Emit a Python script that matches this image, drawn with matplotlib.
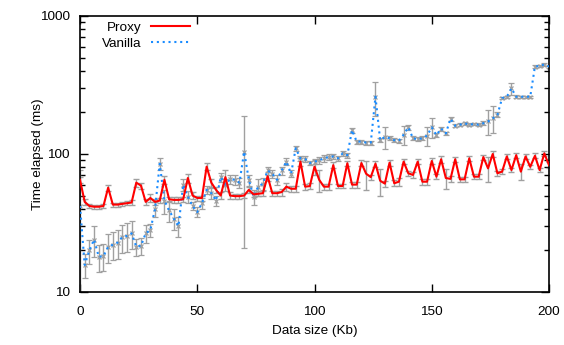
import matplotlib
matplotlib.use("Agg")
import matplotlib.pyplot as plt
from matplotlib.lines import Line2D
from matplotlib.ticker import FixedLocator, FixedFormatter, LogLocator, NullFormatter

plt.rcParams['font.family'] = ['Liberation Sans', 'DejaVu Sans']

# data size (Kb)
data_size = list(range(0, 201, 2))

proxy = [
    65, 45, 42, 41.5, 41.5, 42, 57, 43, 43, 43.5,
    44, 44.5, 62, 59, 45, 48, 45, 46, 65, 47,
    46.5, 46.5, 47, 67, 50, 48, 48, 81, 62, 55,
    50, 68, 50, 49.5, 49.5, 50, 55, 51, 51.5, 52,
    69, 52, 52, 53, 58, 56, 56, 88, 58, 58.5,
    81, 65, 58, 58, 83, 58.6, 58.6, 85.6, 60, 60,
    86, 72, 68, 85, 64, 61, 86.5, 61.4, 63, 88,
    72.5, 70.5, 88, 63, 63, 89, 68.5, 91.6, 67, 66,
    91.6, 65.5, 65.5, 93, 68.5, 68.5, 95, 78.7, 100, 72.5,
    74.5, 96, 76.5, 98, 74.5, 96, 80.8, 97, 76.5, 101,
    83,
]
proxy_err = [
    3, 2, 1.5, 1.5, 1.5, 1.5, 3, 1.5, 1.5, 1.5,
    1.5, 2, 4, 3, 2, 3, 2, 2, 4, 2,
    2, 2, 2, 5, 3, 2, 2, 5, 4, 3,
    3, 8, 3, 2, 2, 2, 3, 2, 2, 2,
    5, 2, 2, 3, 4, 3, 3, 6, 3, 3,
    10, 12, 3, 3, 4, 2, 2, 4, 3, 3,
    4, 17, 3, 4, 14, 3, 4, 3, 4, 4,
    3, 3, 4, 3, 3, 4, 3, 5, 11, 3,
    4, 3, 3, 4, 3, 3, 4, 16, 5, 3,
    3, 4, 3, 4, 10, 4, 3, 4, 3, 4,
    4,
]

vanilla = [
    42, 15.7, 20, 24, 18, 18.2, 21.3, 22, 22.8, 25,
    25.5, 26.6, 21.3, 21.6, 26.6, 28.1, 40, 85, 46, 39,
    34, 30, 60, 49, 42, 38, 44, 55, 52, 46,
    68, 60, 66, 65, 62, 104, 65, 49, 58, 61,
    76, 72, 65, 76, 88, 72, 110, 93, 92, 86,
    88, 90, 93, 95, 96, 93, 101, 98, 149, 123,
    123, 121, 121, 260, 126, 133, 130, 126, 125, 138,
    156, 130, 128, 130, 136, 156, 137, 153, 141, 180,
    160, 163, 167, 163, 165, 163, 167, 172, 181, 192,
    254, 260, 299, 260, 260, 260, 260, 430, 435, 445,
    430,
]
vanilla_err = [
    34, 3, 4, 6, 4, 4, 5, 5, 5.5, 5.7,
    6, 6, 3, 3, 4, 3, 5, 9, 9, 7,
    6, 5, 6, 5, 3, 3, 4, 4, 5, 4,
    5, 6, 5, 5, 5, 83, 6, 6, 8, 6,
    5, 5, 5, 5, 5, 4, 5, 4, 4, 3,
    4, 5, 5, 5, 4, 4, 4, 4, 6, 4,
    4, 4, 4, 70, 4, 25, 4, 4, 4, 22,
    6, 4, 4, 4, 22, 25, 4, 5, 4, 6,
    4, 4, 4, 4, 4, 4, 5, 35, 40, 8,
    5, 5, 30, 6, 5, 5, 5, 8, 8, 10,
    10,
]

x_ticks = [0, 50, 100, 150, 200]
y_ticks = [10, 100, 1000]
y_tick_labels = ['10', '100', '1000']

red = '#ff0000'
blue = '#1a8cff'
grey = '#a0a0a0'

fig = plt.figure(figsize=(5.64, 3.45), dpi=100)
ax = fig.add_axes([80 / 564, 1 - 292 / 345, 469 / 564, 276 / 345])
ax.set_yscale('log')

# error bars
ax.errorbar(data_size, proxy, yerr=proxy_err, fmt='none', ecolor=grey,
            elinewidth=1, capsize=2.5, capthick=1, zorder=2)
ax.errorbar(data_size, vanilla, yerr=vanilla_err, fmt='x', color=grey, ms=3.5,
            mew=0.9, ecolor=grey, elinewidth=1, capsize=2.5, capthick=1, zorder=2)

# lines
ax.plot(data_size, proxy, color=red, lw=1.5, zorder=4)
ax.plot(data_size, vanilla, color=blue, lw=1.5, ls=(0, (1, 1.8)), zorder=3)

ax.set_xlim(0, 200)
ax.set_ylim(10, 1000)
ax.xaxis.set_major_locator(FixedLocator(x_ticks))
ax.yaxis.set_major_locator(FixedLocator(y_ticks))
ax.yaxis.set_major_formatter(FixedFormatter(y_tick_labels))
ax.yaxis.set_minor_locator(LogLocator(base=10, subs=range(2, 10)))
ax.yaxis.set_minor_formatter(NullFormatter())

ax.tick_params(which='both', direction='in', top=True, right=True,
               labelsize=9.7, width=1, colors='black')
ax.tick_params(which='major', length=6)
ax.tick_params(axis='x', which='major', pad=10)
ax.tick_params(axis='y', which='major', pad=7.5)
ax.tick_params(which='minor', length=3.5)
for s in ax.spines.values():
    s.set_linewidth(1.2)

ax.set_xlabel('Data size (Kb)', fontsize=9.7)
ax.set_ylabel('Time elapsed (ms)', fontsize=9.7)
ax.xaxis.set_label_coords(0.5, (292 - 331) / 276, transform=ax.transAxes)
ax.yaxis.set_label_coords((38 - 80) / 469, 0.5, transform=ax.transAxes)
ax.xaxis.label.set_va('center')
ax.yaxis.label.set_va('center')

handles = [Line2D([], [], color=red, lw=1.5),
           Line2D([], [], color=blue, lw=1.5, ls=(0, (1, 1.8)))]
ax.legend(handles, ['Proxy', 'Vanilla'], loc='upper left', frameon=False,
          markerfirst=False, fontsize=9.7, handlelength=2.9,
          handletextpad=0.7, labelspacing=0.25, borderaxespad=0.0,
          bbox_to_anchor=(0.035, 1.0))

fig.savefig('out.png', dpi=100)
